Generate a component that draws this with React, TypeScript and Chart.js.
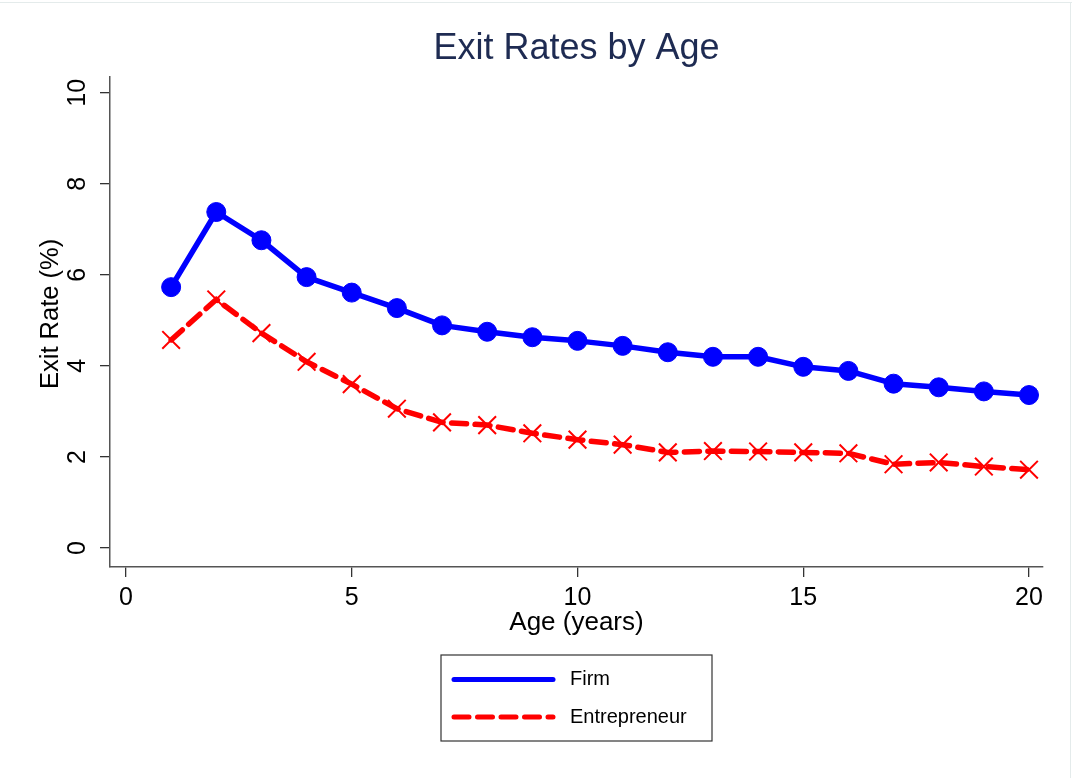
import React, { useEffect, useRef } from "react";
import { Chart, registerables } from "chart.js";

Chart.register(...registerables);

const FONT = "'Liberation Sans', Arial, Helvetica, sans-serif";

const chartTitle = "Exit Rates by Age";
const xAxisTitle = "Age (years)";
const yAxisTitle = "Exit Rate (%)";

const ages = [1, 2, 3, 4, 5, 6, 7, 8, 9, 10, 11, 12, 13, 14, 15, 16, 17, 18, 19, 20];
const firmLabel = "Firm";
const firmRates = [5.73, 7.38, 6.76, 5.95, 5.61, 5.27, 4.89, 4.75, 4.63, 4.55, 4.44, 4.3, 4.2, 4.2, 3.98, 3.89, 3.61, 3.53, 3.44, 3.36];
const entrepreneurLabel = "Entrepreneur";
const entrepreneurRates = [4.57, 5.46, 4.72, 4.09, 3.6, 3.06, 2.76, 2.7, 2.52, 2.38, 2.27, 2.1, 2.13, 2.12, 2.1, 2.08, 1.84, 1.88, 1.79, 1.72];

const xTicks = [0, 5, 10, 15, 20];
const yTicks = [0, 2, 4, 6, 8, 10];

const yTitlePlugin = {
  id: "yTitle",
  afterDraw(chart: any) {
    const { ctx, chartArea } = chart;
    const cy = (chartArea.top + chartArea.bottom) / 2 - 8;
    ctx.save();
    ctx.translate(51, cy);
    ctx.rotate(-Math.PI / 2);
    ctx.fillStyle = "#000000";
    ctx.font = `25.5px ${FONT}`;
    ctx.textAlign = "center";
    ctx.textBaseline = "middle";
    ctx.fillText(yAxisTitle, 0, 0);
    ctx.restore();
  },
};

const boxedLegend = {
  id: "boxedLegend",
  afterDraw(chart: any) {
    const { ctx, chartArea } = chart;
    const boxW = 271;
    const boxH = 86;
    const left = (chartArea.left + chartArea.right) / 2 - boxW / 2;
    const top = chartArea.bottom + 88;
    ctx.save();
    ctx.fillStyle = "#ffffff";
    ctx.fillRect(left, top, boxW, boxH);
    ctx.strokeStyle = "#333333";
    ctx.lineWidth = 1.2;
    ctx.strokeRect(left, top, boxW, boxH);
    const rows = [top + 24.5, top + 62];
    chart.data.datasets.forEach((ds: any, i: number) => {
      const y = rows[i];
      ctx.beginPath();
      ctx.strokeStyle = ds.borderColor;
      ctx.lineWidth = 5;
      ctx.lineCap = "round";
      ctx.setLineDash(ds.borderDash || []);
      ctx.moveTo(left + 13, y);
      ctx.lineTo(left + 112, y);
      ctx.stroke();
      ctx.setLineDash([]);
      ctx.fillStyle = "#000000";
      ctx.font = `20px ${FONT}`;
      ctx.textAlign = "left";
      ctx.textBaseline = "middle";
      ctx.fillText(ds.label, left + 129, y);
    });
    ctx.restore();
  },
};

export default function App() {
  const canvasRef = useRef<HTMLCanvasElement | null>(null);

  useEffect(() => {
    if (!canvasRef.current) return;
    Chart.defaults.font.family = FONT;
    const chart = new Chart(canvasRef.current, {
      type: "line",
      data: {
        datasets: [
          {
            label: firmLabel,
            data: ages.map((a, i) => ({ x: a, y: firmRates[i] })),
            borderColor: "#0000ff",
            backgroundColor: "#0000ff",
            borderWidth: 5.5,
            pointStyle: "circle",
            pointRadius: 9.5,
            pointBorderWidth: 1,
            pointBackgroundColor: "#0000ff",
            pointBorderColor: "#0000ff",
            borderJoinStyle: "round",
            tension: 0,
          },
          {
            label: entrepreneurLabel,
            data: ages.map((a, i) => ({ x: a, y: entrepreneurRates[i] })),
            borderColor: "#ff0000",
            backgroundColor: "#ff0000",
            borderWidth: 5.5,
            borderDash: [15, 8.5],
            borderCapStyle: "round",
            pointStyle: "crossRot",
            pointRadius: 12.5,
            pointBorderWidth: 2,
            pointBorderColor: "#ff0000",
            pointBackgroundColor: "#ff0000",
            tension: 0,
          },
        ],
      },
      options: {
        animation: false,
        responsive: false,
        maintainAspectRatio: false,
        layout: { padding: { top: 27, right: 29, bottom: 0, left: 0 } },
        plugins: {
          legend: { display: false },
          tooltip: { enabled: false },
          title: {
            display: true,
            fullSize: false,
            text: chartTitle,
            color: "#1e2b52",
            font: { family: FONT, size: 36, weight: "normal", lineHeight: 1.2 },
            padding: { top: 0, bottom: 6.6 },
          },
        },
        scales: {
          x: {
            type: "linear",
            min: -0.354,
            max: 20.31,
            afterBuildTicks: (s: any) => {
              s.ticks = xTicks.map((v) => ({ value: v }));
            },
            afterFit: (s: any) => {
              s.height = 211;
            },
            grid: { drawOnChartArea: false, drawTicks: true, tickLength: 10, color: "#333333", lineWidth: 1.3 },
            border: { display: true, color: "#555555", width: 1.5 },
            ticks: {
              font: { family: FONT, size: 25 },
              color: "#000000",
              padding: 6,
              maxRotation: 0,
              minRotation: 0,
              callback: (v: any) => String(v),
            },
            title: {
              display: true,
              text: xAxisTitle,
              color: "#000000",
              font: { family: FONT, size: 26 },
              padding: { top: 0, bottom: 139.4 },
            },
          },
          y: {
            type: "linear",
            min: -0.417,
            max: 10.35,
            afterBuildTicks: (s: any) => {
              s.ticks = yTicks.map((v) => ({ value: v }));
            },
            afterFit: (s: any) => {
              s.width = 110;
            },
            grid: { drawOnChartArea: false, drawTicks: true, tickLength: 10, color: "#333333", lineWidth: 1.3 },
            border: { display: true, color: "#555555", width: 1.5 },
            ticks: {
              font: { family: FONT, size: 25 },
              color: "#000000",
              padding: 8,
              minRotation: 90,
              maxRotation: 90,
              crossAlign: "center",
              callback: (v: any) => String(v),
            },
            title: { display: false },
          },
        },
      },
      plugins: [boxedLegend, yTitlePlugin],
    } as any);
    return () => chart.destroy();
  }, []);

  return (
    <div style={{ position: "absolute", left: 0, top: 0, width: 1072, height: 778, background: "#ffffff" }}>
      <canvas ref={canvasRef} width={1072} height={778} style={{ display: "block" }} />
      <div style={{ position: "absolute", left: 0, top: 2, width: 1072, height: 1, background: "#e4ebeb" }} />
      <div style={{ position: "absolute", left: 1070, top: 2, width: 1, height: 776, background: "#e4ebeb" }} />
    </div>
  );
}
